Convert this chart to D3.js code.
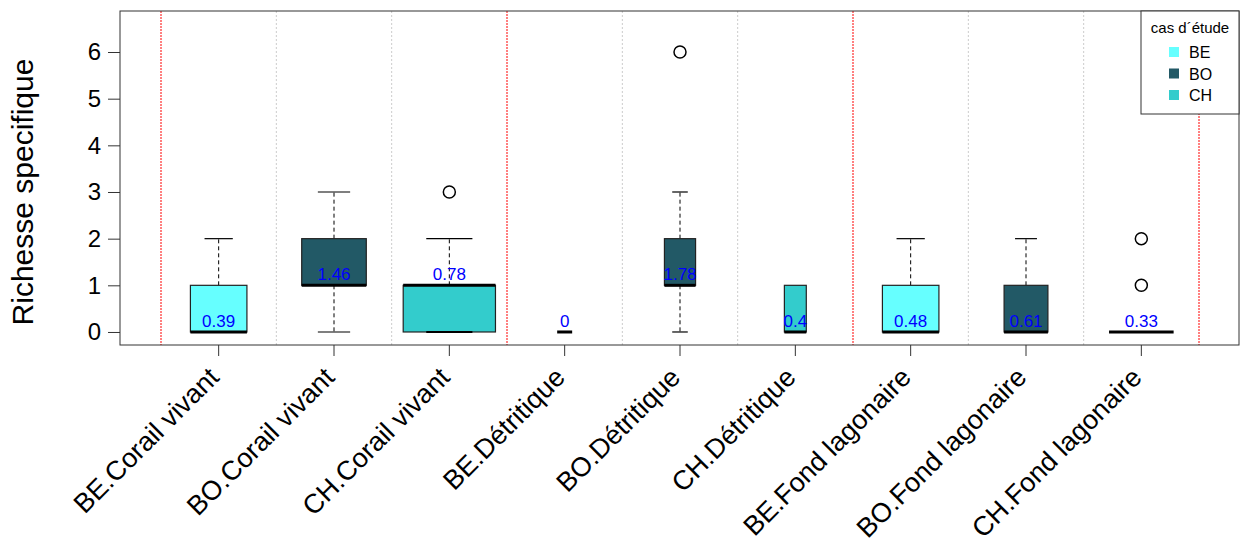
<!DOCTYPE html>
<html>
  <head>
    <meta charset=utf-8>
    <title>Richesse specifique</title>
    <style>
      body{ margin:0; background:#fff; }
      text{ font-family:"Liberation Sans", Arial, Helvetica, sans-serif; }
    </style>
  </head>
  <body>
    <script src="https://d3js.org/d3.v7.min.js"></script>
    <script>
      // one box per "cas d'etude" x habitat
      var categories = ["BE.Corail vivant", "BO.Corail vivant", "CH.Corail vivant",
                        "BE.Détritique", "BO.Détritique", "CH.Détritique",
                        "BE.Fond lagonaire", "BO.Fond lagonaire", "CH.Fond lagonaire"];
      var cas = ["BE", "BO", "CH", "BE", "BO", "CH", "BE", "BO", "CH"];
      var lowWhisker  = [0, 0, 0, 0, 0, 0, 0, 0, 0];
      var q1          = [0, 1, 0, 0, 1, 0, 0, 0, 0];
      var medians     = [0, 1, 1, 0, 1, 0, 0, 0, 0];
      var q3          = [1, 2, 1, 0, 2, 1, 1, 1, 0];
      var highWhisker = [2, 3, 2, 0, 3, 1, 2, 2, 0];
      var outliers    = [[], [], [3], [], [6], [], [], [], [1, 2]];
      var means       = [0.39, 1.46, 0.78, 0, 1.78, 0.4, 0.48, 0.61, 0.33];
      var boxWidth    = [0.49, 0.56, 0.80, 0.13, 0.27, 0.19, 0.49, 0.38, 0.56];
      var legendKeys  = ["BE", "BO", "CH"];
      var yTicks      = [0, 1, 2, 3, 4, 5, 6];

      var colour = d3.scaleOrdinal().domain(legendKeys).range(["#66FFFF", "#225966", "#33CCCC"]);

      var W = 1248, H = 547;
      var plot = {left: 120, right: 1239, top: 11, bottom: 345};

      var svg = d3.select("body").append("svg")
        .attr("width", W).attr("height", H);

      var x = d3.scaleBand().domain(d3.range(categories.length))
        .range([161, 1199]).padding(0);
      var step = x.step();
      var cx = function(i){ return x(i) + step / 2; };

      var y = d3.scaleLinear().domain([-0.279, 6.879]).range([plot.bottom, plot.top]);

      // separators between boxes
      for (var k = 0; k <= categories.length; k++)
      {
        var red = (k % 3 === 0);
        svg.append("line")
          .attr("x1", x.range()[0] + k * step).attr("x2", x.range()[0] + k * step)
          .attr("y1", plot.top).attr("y2", plot.bottom)
          .style("stroke", red ? "#ff0000" : "#cccccc")
          .style("stroke-width", 1)
          .style("stroke-dasharray", red ? "2,1" : "2,2");
      }

      var boxes = svg.selectAll("g.box").data(categories).enter()
        .append("g").attr("class", "box");

      boxes.each(function(d, i)
      {
        var g = d3.select(this);
        var c = cx(i), bw = boxWidth[i] * step;

        // whiskers
        if (highWhisker[i] > q3[i])
        {
          g.append("line").attr("x1", c).attr("x2", c)
            .attr("y1", y(q3[i])).attr("y2", y(highWhisker[i]))
            .style("stroke", "#000").style("stroke-dasharray", "4,3");
          g.append("line").attr("x1", c - bw / 4).attr("x2", c + bw / 4)
            .attr("y1", y(highWhisker[i])).attr("y2", y(highWhisker[i]))
            .style("stroke", "#000").style("stroke-width", 1.2);
        }
        if (lowWhisker[i] < q1[i])
        {
          g.append("line").attr("x1", c).attr("x2", c)
            .attr("y1", y(q1[i])).attr("y2", y(lowWhisker[i]))
            .style("stroke", "#000").style("stroke-dasharray", "4,3");
          g.append("line").attr("x1", c - bw / 4).attr("x2", c + bw / 4)
            .attr("y1", y(lowWhisker[i])).attr("y2", y(lowWhisker[i]))
            .style("stroke", "#000").style("stroke-width", 1.2);
        }

        if (q3[i] > q1[i])
        {
          g.append("rect")
            .attr("x", c - bw / 2).attr("width", bw)
            .attr("y", y(q3[i])).attr("height", y(q1[i]) - y(q3[i]))
            .style("fill", colour(cas[i]))
            .style("stroke", "#222").style("stroke-width", 1.2);
        }
        // lower whisker cap sitting on the box edge
        if (lowWhisker[i] === q1[i] && q3[i] > q1[i] && highWhisker[i] > q3[i])
        {
          g.append("line").attr("x1", c - bw / 4).attr("x2", c + bw / 4)
            .attr("y1", y(q1[i])).attr("y2", y(q1[i]))
            .style("stroke", "#000").style("stroke-width", 2);
        }

        g.append("line")
          .attr("x1", c - bw / 2).attr("x2", c + bw / 2)
          .attr("y1", y(medians[i])).attr("y2", y(medians[i]))
          .style("stroke", "#000").style("stroke-width", 3);

        g.selectAll("circle").data(outliers[i]).enter().append("circle")
          .attr("cx", c).attr("cy", function(v){ return y(v); })
          .attr("r", 6)
          .style("fill", "none").style("stroke", "#000").style("stroke-width", 1.5);

        g.append("text")
          .attr("x", c).attr("y", y(medians[i]) - 5)
          .attr("text-anchor", "middle")
          .style("font-size", "17px").style("fill", "#0000ff")
          .text(means[i]);
      });

      // frame
      svg.append("rect")
        .attr("x", plot.left).attr("y", plot.top)
        .attr("width", plot.right - plot.left).attr("height", plot.bottom - plot.top)
        .style("fill", "none").style("stroke", "#333").style("stroke-width", 1);

      // y axis
      var yAxis = svg.append("g")
        .attr("transform", "translate(" + plot.left + ",0)")
        .call(d3.axisLeft(y).tickValues(yTicks).tickSize(12).tickPadding(7).tickFormat(d3.format("d")));
      yAxis.select(".domain").remove();
      yAxis.selectAll("text").style("font-size", "24px").style("font-family", "Liberation Sans, Arial, sans-serif");
      yAxis.selectAll("line").style("stroke", "#333");

      svg.append("text")
        .attr("transform", "translate(33,192)rotate(-90)")
        .attr("text-anchor", "middle")
        .style("font-size", "30px")
        .text("Richesse specifique");

      // x axis
      var xAxis = svg.append("g")
        .attr("transform", "translate(0," + plot.bottom + ")")
        .call(d3.axisBottom(x).tickSize(11).tickFormat(""));
      xAxis.select(".domain").remove();
      xAxis.selectAll("line").style("stroke", "#333");

      svg.selectAll("text.xlab").data(categories).enter().append("text")
        .attr("class", "xlab")
        .attr("text-anchor", "end")
        .attr("transform", function(d, i){ return "translate(" + (cx(i) + 2) + ",379)rotate(-45)"; })
        .style("font-size", "27px")
        .text(function(d){ return d; });

      // legend
      var lg = svg.append("g");
      lg.append("rect")
        .attr("x", 1141).attr("y", plot.top).attr("width", plot.right - 1141).attr("height", 103)
        .style("fill", "#fff").style("stroke", "#333");
      lg.append("text")
        .attr("x", 1190).attr("y", 33).attr("text-anchor", "middle")
        .style("font-size", "15px").text("cas d´étude");
      legendKeys.forEach(function(k, j)
      {
        lg.append("rect")
          .attr("x", 1169).attr("y", 47 + j * 21.5).attr("width", 10).attr("height", 10)
          .style("fill", colour(k));
        lg.append("text")
          .attr("x", 1189).attr("y", 58 + j * 21.5)
          .style("font-size", "16px").text(k);
      });
    </script>
  </body>
</html>
